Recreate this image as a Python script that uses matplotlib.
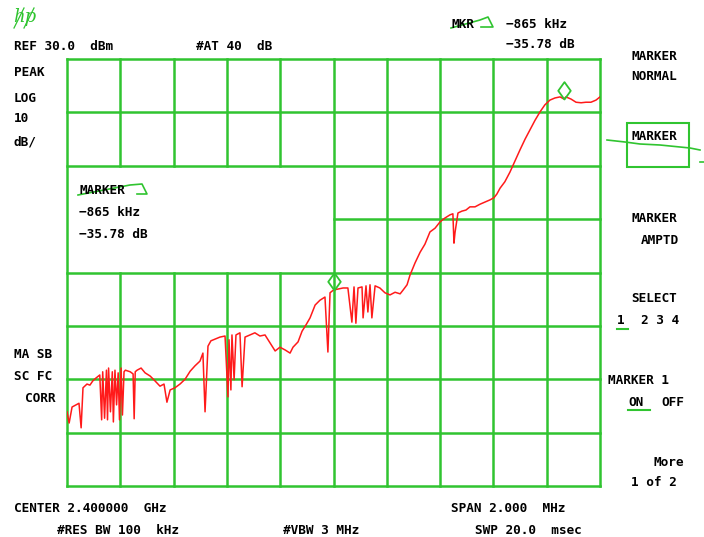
import matplotlib
matplotlib.use("Agg")
import matplotlib.pyplot as plt
from matplotlib.lines import Line2D
from matplotlib.path import Path
import numpy as np

W, H = 704, 537

# sweep: offset from center (kHz) and level (dBm)
freq_khz = [-1000, -992, -981, -966, -955, -947, -940, -925, -914, -903, -892, -877,
            -870, -866, -859, -852, -848, -844, -837, -830, -826, -820, -814, -808,
            -803, -797, -792, -786, -781, -763, -752, -748, -744, -737, -722, -707,
            -688, -670, -651, -636, -625, -613, -595, -576, -557, -538, -520, -501,
            -490, -482, -471, -460, -445, -426, -407, -396, -392, -385, -381, -373,
            -366, -351, -343, -332, -313, -295, -276, -257, -238, -219, -201, -182,
            -163, -152, -133, -118, -103, -88, -69, -51, -32, -21, -13, 0,
            17, 36, 54, 69, 77, 84, 92, 107, 111, 122, 129, 137,
            144, 156, 174, 193, 212, 231, 250, 261, 276, 287, 306, 325,
            343, 362, 381, 400, 418, 437, 448, 452, 456, 467, 482, 497,
            512, 531, 550, 568, 587, 602, 613, 625, 643, 662, 681, 700,
            719, 737, 756, 775, 793, 812, 831, 850, 865, 872, 891, 910,
            929, 947, 966, 985, 1000]
level_dbm = [-36.1, -38.2, -35.2, -34.8, -34.5, -39.1, -31.6, -30.9, -31.1, -30.3, -29.8, -29.2,
             -37.6, -28.6, -37.3, -28.3, -37.6, -27.9, -36.1, -28.6, -38.0, -28.3, -34.8, -28.8,
             -37.6, -27.9, -36.7, -28.6, -28.3, -28.6, -29.0, -37.4, -28.6, -28.3, -27.9, -28.8,
             -29.4, -30.3, -31.3, -30.9, -34.3, -32.0, -31.6, -30.9, -30.0, -28.5, -27.5, -26.6,
             -25.1, -36.1, -23.8, -22.8, -22.5, -22.1, -21.9, -33.3, -22.6, -32.0, -21.7, -30.1,
             -21.7, -21.3, -31.4, -22.1, -21.7, -21.3, -21.9, -21.7, -23.2, -24.7, -24.0, -24.5,
             -25.1, -24.0, -23.0, -21.0, -19.8, -18.5, -16.1, -15.2, -14.6, -24.9, -13.8, -13.28,
             -13.1, -12.9, -12.9, -19.3, -12.7, -19.5, -12.9, -12.7, -18.5, -12.5, -17.4, -12.3,
             -18.5, -12.5, -12.9, -13.8, -14.2, -13.7, -14.0, -13.3, -12.3, -10.5, -8.2, -6.2,
             -4.7, -2.4, -1.7, -0.5, 0.2, 0.8, 1.0, -4.5, -2.5, 1.15, 1.5, 1.7,
             2.3, 2.3, 2.8, 3.2, 3.6, 4.0, 4.7, 5.8, 7.0, 8.8, 10.9, 13.0,
             15.0, 16.7, 18.5, 20.1, 21.4, 22.3, 22.7, 22.9, 22.5, 22.9, 22.5, 21.9,
             21.8, 21.9, 21.9, 22.3, 22.9]

ref_level = 30.0      # dBm, top graticule line
db_per_div = 10.0
span_khz = 2000.0
ref_marker_khz = 865
delta_khz = -865
delta_db = -35.78

green = "#30c430"
red = "#ff1a1a"
font = dict(family="DejaVu Sans Mono", weight="bold", fontsize=9.2, color="black")

fig = plt.figure(figsize=(W / 100, H / 100), dpi=100)
fig.patch.set_facecolor("white")

# graticule box in pixels
gx0, gx1, gy0, gy1 = 67, 600, 59, 486
ax = fig.add_axes([gx0 / W, 1 - gy1 / H, (gx1 - gx0) / W, (gy1 - gy0) / H])
ax.set_xlim(-span_khz / 2, span_khz / 2)
ax.set_ylim(ref_level - 8 * db_per_div, ref_level)
ax.axis("off")

xdiv = np.linspace(-span_khz / 2, span_khz / 2, 11)
ydiv = np.linspace(ref_level - 8 * db_per_div, ref_level, 9)
lo, hi = ref_level - 8 * db_per_div, ref_level
gl = dict(color=green, lw=1.8, clip_on=False, zorder=1)

# horizontal lines; the 0 dBm line is cut where the marker readout sits
for y in ydiv:
    if y == 0:
        ax.plot([0, span_khz / 2], [y, y], **gl)
    else:
        ax.plot([xdiv[0], xdiv[-1]], [y, y], **gl)
# vertical lines, left half cut between +10 and -10 dBm
for x in xdiv:
    if -span_khz / 2 < x < 0:
        ax.plot([x, x], [lo, -10], **gl)
        ax.plot([x, x], [10, hi], **gl)
    else:
        ax.plot([x, x], [lo, hi], **gl)

ax.plot(freq_khz, level_dbm, color=red, lw=1.1, zorder=3)

# markers: diamond with its lower tip on the trace
tip = Path([(0, 0), (0.36, 0.5), (0, 1), (-0.36, 0.5), (0, 0)],
           [Path.MOVETO, Path.LINETO, Path.LINETO, Path.LINETO, Path.CLOSEPOLY])
ref_lvl = np.interp(ref_marker_khz, freq_khz, level_dbm)
mk_x = [ref_marker_khz, ref_marker_khz + delta_khz]
mk_y = [ref_lvl, ref_lvl + delta_db]
ax.plot(mk_x, mk_y, ls="none", marker=tip, markersize=25, mfc="none",
        mec=green, mew=1.3, zorder=4, clip_on=False)


def txt(x, y, s, **kw):
    d = dict(font)
    d.update(kw)
    fig.text(x / W, 1 - y / H, s, ha="left", va="center", **d)


def pline(pts, **kw):
    xs = [p[0] / W for p in pts]
    ys = [1 - p[1] / H for p in pts]
    fig.add_artist(Line2D(xs, ys, color=green, lw=kw.get("lw", 1.2)))


# hp logo
txt(13, 17, "hp", color=green, fontsize=13, style="italic", weight="normal", family="DejaVu Serif")
pline([(14, 28), (24, 8)], lw=0.9)
pline([(24, 28), (34, 8)], lw=0.9)

txt(14, 46, "REF 30.0  dBm")
txt(196, 46, "#AT 40  dB")

txt(451, 25, "MKR")
pline([(451, 28), (480, 20), (488, 17), (493, 27), (481, 27)])
txt(506, 25, "\u2212865 kHz")
txt(506, 45, "\u221235.78 dB")

for s, y in [("PEAK", 73), ("LOG", 99), ("10", 119), ("dB/", 142)]:
    txt(14, y, s)
txt(14, 355, "MA SB")
txt(14, 377, "SC FC")
txt(25, 398, "CORR")

# readout inside the blank graticule area
txt(79, 190, "MARKER")
pline([(78, 195), (130, 185), (142, 184), (147, 194), (137, 194)])
txt(79, 212, "\u2212865 kHz")
txt(79, 234, "\u221235.78 dB")

# softkey labels
txt(631, 56, "MARKER")
txt(631, 77, "NORMAL")
fig.add_artist(plt.Rectangle((627 / W, 1 - 167 / H), 62 / W, 44 / H, fill=False,
                             ec=green, lw=1.5, transform=fig.transFigure))
txt(631, 137, "MARKER")
pline([(607, 140), (625, 142), (640, 144), (660, 145), (690, 148), (700, 150)])
pline([(700, 162), (704, 162)])
txt(631, 218, "MARKER")
txt(641, 240, "AMPTD")
txt(631, 299, "SELECT")
txt(617, 321, "1")
txt(641, 321, "2 3 4")
pline([(617, 329), (628, 329)], lw=1.5)
txt(608, 380, "MARKER 1")
txt(628, 402, "ON")
txt(661, 402, "OFF")
pline([(628, 410), (650, 410)], lw=1.5)
txt(654, 462, "More")
txt(631, 483, "1 of 2")

txt(14, 508, "CENTER 2.400000  GHz")
txt(451, 508, "SPAN 2.000  MHz")
txt(57, 530, "#RES BW 100  kHz")
txt(283, 530, "#VBW 3 MHz")
txt(475, 530, "SWP 20.0  msec")

fig.savefig("out.png", dpi=100, facecolor="white")
